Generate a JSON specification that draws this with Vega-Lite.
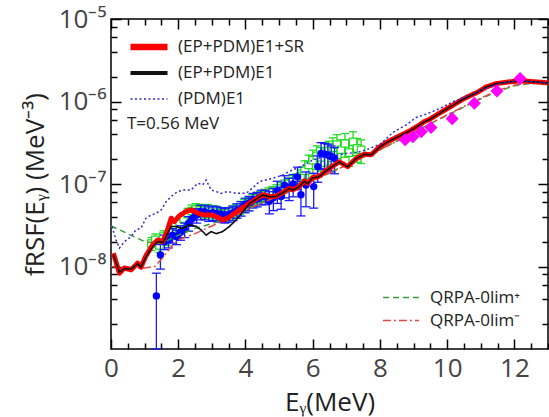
{
  "$schema": "https://vega.github.io/schema/vega-lite/v6.json",
  "width": 437,
  "height": 330,
  "autosize": {"type": "none"},
  "padding": {"left": 111, "top": 19, "right": 1, "bottom": 68},
  "background": "white",
  "config": {
    "font": "Open Sans",
    "view": {"stroke": "#000000", "strokeWidth": 1.5},
    "axis": {"grid": false, "domain": false, "tickColor": "#000000", "tickWidth": 1.5, "labelFont": "Open Sans", "labelFontSize": 26, "labelColor": "#444444", "titleFont": "Open Sans", "titleFontSize": 26, "titleFontWeight": "normal", "titleColor": "#222222", "labelOverlap": false, "labelFlush": false, "zindex": 1},
    "legend": {"padding": 0, "labelFont": "Open Sans", "labelFontSize": 17, "labelColor": "#222222", "titleFont": "Open Sans", "titleFontSize": 17, "titleFontWeight": "normal", "titleColor": "#222222", "symbolType": "stroke", "labelLimit": 300}
  },
  "datasets": {
    "curves": [
      {"E":0.07,"f":1.45e-8,"s":"r"},{"E":0.25,"f":8.3e-9,"s":"r"},{"E":0.4,"f":9.6e-9,"s":"r"},{"E":0.6,"f":9.1e-9,"s":"r"},{"E":0.79,"f":1.1e-8,"s":"r"},{"E":0.89,"f":9.8e-9,"s":"r"},{"E":1.04,"f":1.35e-8,"s":"r"},{"E":1.24,"f":1.83e-8,"s":"r"},{"E":1.39,"f":2.1e-8,"s":"r"},{"E":1.54,"f":2.0e-8,"s":"r"},{"E":1.66,"f":2.6e-8,"s":"r"},{"E":1.79,"f":3.85e-8,"s":"r"},{"E":1.88,"f":3.5e-8,"s":"r"},{"E":2.03,"f":4.1e-8,"s":"r"},{"E":2.25,"f":4.7e-8,"s":"r"},{"E":2.4,"f":4.85e-8,"s":"r"},{"E":2.6,"f":4.4e-8,"s":"r"},{"E":2.8,"f":4.2e-8,"s":"r"},{"E":3.02,"f":4.2e-8,"s":"r"},{"E":3.2,"f":3.9e-8,"s":"r"},{"E":3.32,"f":3.67e-8,"s":"r"},{"E":3.47,"f":3.85e-8,"s":"r"},{"E":3.82,"f":4.85e-8,"s":"r"},{"E":4.12,"f":5.85e-8,"s":"r"},{"E":4.51,"f":7.4e-8,"s":"r"},{"E":4.71,"f":7.05e-8,"s":"r"},{"E":4.91,"f":7.1e-8,"s":"r"},{"E":5.16,"f":8.1e-8,"s":"r"},{"E":5.31,"f":8.9e-8,"s":"r"},{"E":5.4,"f":8.5e-8,"s":"r"},{"E":5.6,"f":9.3e-8,"s":"r"},{"E":5.75,"f":1.09e-7,"s":"r"},{"E":5.85,"f":1.02e-7,"s":"r"},{"E":6.0,"f":1.2e-7,"s":"r"},{"E":6.15,"f":1.22e-7,"s":"r"},{"E":6.25,"f":1.29e-7,"s":"r"},{"E":6.4,"f":1.46e-7,"s":"r"},{"E":6.55,"f":1.6e-7,"s":"r"},{"E":6.79,"f":1.86e-7,"s":"r"},{"E":7.04,"f":1.62e-7,"s":"r"},{"E":7.29,"f":2.04e-7,"s":"r"},{"E":7.54,"f":2.3e-7,"s":"r"},{"E":7.74,"f":2.26e-7,"s":"r"},{"E":7.99,"f":2.82e-7,"s":"r"},{"E":8.23,"f":3.25e-7,"s":"r"},{"E":8.43,"f":3.57e-7,"s":"r"},{"E":8.68,"f":4.0e-7,"s":"r"},{"E":8.93,"f":4.5e-7,"s":"r"},{"E":9.18,"f":5.2e-7,"s":"r"},{"E":9.32,"f":5.7e-7,"s":"r"},{"E":9.47,"f":6.05e-7,"s":"r"},{"E":9.67,"f":6.8e-7,"s":"r"},{"E":9.92,"f":7.85e-7,"s":"r"},{"E":10.17,"f":9.0e-7,"s":"r"},{"E":10.42,"f":1.04e-6,"s":"r"},{"E":10.61,"f":1.14e-6,"s":"r"},{"E":10.91,"f":1.3e-6,"s":"r"},{"E":11.16,"f":1.5e-6,"s":"r"},{"E":11.46,"f":1.65e-6,"s":"r"},{"E":11.85,"f":1.73e-6,"s":"r"},{"E":12.2,"f":1.78e-6,"s":"r"},{"E":12.55,"f":1.74e-6,"s":"r"},{"E":13.0,"f":1.68e-6,"s":"r"},
      {"E":0.07,"f":1.4e-8,"s":"k"},{"E":0.25,"f":8.5e-9,"s":"k"},{"E":0.4,"f":9.4e-9,"s":"k"},{"E":0.6,"f":9.3e-9,"s":"k"},{"E":0.79,"f":1.08e-8,"s":"k"},{"E":0.89,"f":9.8e-9,"s":"k"},{"E":1.04,"f":1.3e-8,"s":"k"},{"E":1.24,"f":1.75e-8,"s":"k"},{"E":1.39,"f":2.0e-8,"s":"k"},{"E":1.54,"f":1.95e-8,"s":"k"},{"E":1.66,"f":2.4e-8,"s":"k"},{"E":1.79,"f":3.05e-8,"s":"k"},{"E":1.93,"f":3.05e-8,"s":"k"},{"E":2.13,"f":2.9e-8,"s":"k"},{"E":2.33,"f":3.2e-8,"s":"k"},{"E":2.53,"f":3.05e-8,"s":"k"},{"E":2.68,"f":2.78e-8,"s":"k"},{"E":2.83,"f":2.4e-8,"s":"k"},{"E":2.98,"f":2.65e-8,"s":"k"},{"E":3.13,"f":2.5e-8,"s":"k"},{"E":3.32,"f":2.65e-8,"s":"k"},{"E":3.52,"f":3.05e-8,"s":"k"},{"E":3.72,"f":3.65e-8,"s":"k"},{"E":3.9,"f":4.5e-8,"s":"k"},{"E":4.12,"f":5.8e-8,"s":"k"},{"E":4.51,"f":7.35e-8,"s":"k"},{"E":4.71,"f":7.0e-8,"s":"k"},{"E":4.91,"f":7.05e-8,"s":"k"},{"E":5.16,"f":8.05e-8,"s":"k"},{"E":5.31,"f":8.85e-8,"s":"k"},{"E":5.4,"f":8.45e-8,"s":"k"},{"E":5.6,"f":9.25e-8,"s":"k"},{"E":5.75,"f":1.08e-7,"s":"k"},{"E":5.85,"f":1.01e-7,"s":"k"},{"E":6.0,"f":1.19e-7,"s":"k"},{"E":6.15,"f":1.21e-7,"s":"k"},{"E":6.25,"f":1.28e-7,"s":"k"},{"E":6.4,"f":1.45e-7,"s":"k"},{"E":6.55,"f":1.59e-7,"s":"k"},{"E":6.79,"f":1.85e-7,"s":"k"},{"E":7.04,"f":1.61e-7,"s":"k"},{"E":7.29,"f":2.03e-7,"s":"k"},{"E":7.54,"f":2.29e-7,"s":"k"},{"E":7.74,"f":2.25e-7,"s":"k"},{"E":7.99,"f":2.8e-7,"s":"k"},{"E":8.23,"f":3.23e-7,"s":"k"},{"E":8.43,"f":3.55e-7,"s":"k"},{"E":8.68,"f":3.98e-7,"s":"k"},{"E":8.93,"f":4.48e-7,"s":"k"},{"E":9.18,"f":5.18e-7,"s":"k"},{"E":9.32,"f":5.67e-7,"s":"k"},{"E":9.47,"f":6.02e-7,"s":"k"},{"E":9.67,"f":6.77e-7,"s":"k"},{"E":9.92,"f":7.82e-7,"s":"k"},{"E":10.17,"f":8.97e-7,"s":"k"},{"E":10.42,"f":1.035e-6,"s":"k"},{"E":10.61,"f":1.135e-6,"s":"k"},{"E":10.91,"f":1.295e-6,"s":"k"},{"E":11.16,"f":1.495e-6,"s":"k"},{"E":11.46,"f":1.645e-6,"s":"k"},{"E":11.85,"f":1.725e-6,"s":"k"},{"E":12.2,"f":1.775e-6,"s":"k"},{"E":12.55,"f":1.735e-6,"s":"k"},{"E":13.0,"f":1.675e-6,"s":"k"},
      {"E":0.03,"f":3.05e-8,"s":"b"},{"E":0.15,"f":2.1e-8,"s":"b"},{"E":0.25,"f":1.67e-8,"s":"b"},{"E":0.4,"f":2.0e-8,"s":"b"},{"E":0.6,"f":2.3e-8,"s":"b"},{"E":0.74,"f":2.78e-8,"s":"b"},{"E":0.89,"f":2.9e-8,"s":"b"},{"E":1.04,"f":3.85e-8,"s":"b"},{"E":1.19,"f":4.2e-8,"s":"b"},{"E":1.34,"f":4.4e-8,"s":"b"},{"E":1.49,"f":4.85e-8,"s":"b"},{"E":1.64,"f":6.1e-8,"s":"b"},{"E":1.79,"f":7.05e-8,"s":"b"},{"E":1.98,"f":8.1e-8,"s":"b"},{"E":2.18,"f":8.45e-8,"s":"b"},{"E":2.38,"f":8.45e-8,"s":"b"},{"E":2.58,"f":1.02e-7,"s":"b"},{"E":2.73,"f":9.8e-8,"s":"b"},{"E":2.83,"f":1.12e-7,"s":"b"},{"E":2.98,"f":8.45e-8,"s":"b"},{"E":3.13,"f":8.1e-8,"s":"b"},{"E":3.27,"f":7.7e-8,"s":"b"},{"E":3.47,"f":8.1e-8,"s":"b"},{"E":3.72,"f":7.7e-8,"s":"b"},{"E":4.02,"f":7.7e-8,"s":"b"},{"E":4.21,"f":8.9e-8,"s":"b"},{"E":4.41,"f":1.07e-7,"s":"b"},{"E":4.61,"f":1.12e-7,"s":"b"},{"E":4.81,"f":1.17e-7,"s":"b"},{"E":5.11,"f":1.29e-7,"s":"b"},{"E":5.4,"f":1.48e-7,"s":"b"},{"E":5.7,"f":1.67e-7,"s":"b"},{"E":6.0,"f":1.95e-7,"s":"b"},{"E":6.3,"f":2.13e-7,"s":"b"},{"E":6.6,"f":2.2e-7,"s":"b"},{"E":7.0,"f":2.35e-7,"s":"b"},{"E":7.3,"f":2.4e-7,"s":"b"},{"E":7.6,"f":2.6e-7,"s":"b"},{"E":8.04,"f":3.1e-7,"s":"b"},{"E":8.38,"f":4.2e-7,"s":"b"},{"E":8.78,"f":5.2e-7,"s":"b"},{"E":9.08,"f":6.4e-7,"s":"b"},{"E":9.37,"f":7.0e-7,"s":"b"},{"E":9.77,"f":8.2e-7,"s":"b"},{"E":10.17,"f":9.9e-7,"s":"b"},{"E":10.66,"f":1.19e-6,"s":"b"},{"E":11.06,"f":1.4e-6,"s":"b"},{"E":11.56,"f":1.65e-6,"s":"b"},{"E":12.0,"f":1.75e-6,"s":"b"},{"E":12.5,"f":1.74e-6,"s":"b"},{"E":13.0,"f":1.68e-6,"s":"b"}
    ],
    "qrpa": [
      {"E":0.0,"f":3.1e-8,"q":"p"},{"E":0.5,"f":2.5e-8,"q":"p"},{"E":1.0,"f":2.0e-8,"q":"p"},{"E":1.5,"f":1.9e-8,"q":"p"},{"E":2.0,"f":2.4e-8,"q":"p"},{"E":2.5,"f":2.9e-8,"q":"p"},{"E":3.0,"f":3.3e-8,"q":"p"},{"E":3.5,"f":3.9e-8,"q":"p"},{"E":4.0,"f":4.9e-8,"q":"p"},{"E":4.5,"f":6.0e-8,"q":"p"},{"E":5.0,"f":7.3e-8,"q":"p"},{"E":5.5,"f":9.0e-8,"q":"p"},{"E":6.0,"f":1.12e-7,"q":"p"},{"E":6.5,"f":1.38e-7,"q":"p"},{"E":7.0,"f":1.7e-7,"q":"p"},{"E":7.5,"f":2.1e-7,"q":"p"},{"E":8.0,"f":2.6e-7,"q":"p"},{"E":8.5,"f":3.3e-7,"q":"p"},{"E":9.0,"f":4.2e-7,"q":"p"},{"E":9.5,"f":5.4e-7,"q":"p"},{"E":10.0,"f":6.8e-7,"q":"p"},{"E":10.5,"f":8.6e-7,"q":"p"},{"E":11.0,"f":1.08e-6,"q":"p"},{"E":11.5,"f":1.33e-6,"q":"p"},{"E":12.0,"f":1.55e-6,"q":"p"},{"E":12.5,"f":1.65e-6,"q":"p"},{"E":13.0,"f":1.68e-6,"q":"p"},
      {"E":0.0,"f":1.0e-8,"q":"m"},{"E":0.5,"f":9.8e-9,"q":"m"},{"E":1.0,"f":9.6e-9,"q":"m"},{"E":1.3,"f":1.0e-8,"q":"m"},{"E":1.5,"f":1.22e-8,"q":"m"},{"E":1.8,"f":1.75e-8,"q":"m"},{"E":2.0,"f":2.1e-8,"q":"m"},{"E":2.5,"f":2.5e-8,"q":"m"},{"E":3.0,"f":3.1e-8,"q":"m"},{"E":3.5,"f":3.8e-8,"q":"m"},{"E":4.0,"f":4.8e-8,"q":"m"},{"E":4.5,"f":5.9e-8,"q":"m"},{"E":5.0,"f":7.2e-8,"q":"m"},{"E":5.5,"f":8.9e-8,"q":"m"},{"E":6.0,"f":1.1e-7,"q":"m"},{"E":6.5,"f":1.36e-7,"q":"m"},{"E":7.0,"f":1.68e-7,"q":"m"},{"E":7.5,"f":2.1e-7,"q":"m"},{"E":8.0,"f":2.6e-7,"q":"m"},{"E":8.5,"f":3.3e-7,"q":"m"},{"E":9.0,"f":4.2e-7,"q":"m"},{"E":9.5,"f":5.4e-7,"q":"m"},{"E":10.0,"f":6.9e-7,"q":"m"},{"E":10.5,"f":8.7e-7,"q":"m"},{"E":11.0,"f":1.1e-6,"q":"m"},{"E":11.5,"f":1.36e-6,"q":"m"},{"E":12.0,"f":1.58e-6,"q":"m"},{"E":12.5,"f":1.68e-6,"q":"m"},{"E":13.0,"f":1.7e-6,"q":"m"}
    ],
    "oslo": [
      {"E":1.2,"f":1.9e-8,"lo":1.56e-8,"hi":2.24e-8},{"E":1.32,"f":2.1e-8,"lo":1.72e-8,"hi":2.48e-8},{"E":1.44,"f":1.8e-8,"lo":1.48e-8,"hi":2.12e-8},{"E":1.56,"f":2.3e-8,"lo":1.89e-8,"hi":2.71e-8},{"E":1.68,"f":2.2e-8,"lo":1.8e-8,"hi":2.6e-8},{"E":1.8,"f":2.6e-8,"lo":2.13e-8,"hi":3.07e-8},{"E":1.92,"f":3.1e-8,"lo":2.54e-8,"hi":3.66e-8},{"E":2.04,"f":3.3e-8,"lo":2.7e-8,"hi":3.9e-8},{"E":2.16,"f":3.8e-8,"lo":3.12e-8,"hi":4.48e-8},{"E":2.28,"f":4.3e-8,"lo":3.53e-8,"hi":5.07e-8},{"E":2.4,"f":4.7e-8,"lo":3.85e-8,"hi":5.55e-8},{"E":2.52,"f":4.9e-8,"lo":4.02e-8,"hi":5.78e-8},{"E":2.64,"f":4.8e-8,"lo":3.94e-8,"hi":5.66e-8},{"E":2.76,"f":4.7e-8,"lo":3.85e-8,"hi":5.55e-8},{"E":2.88,"f":4.8e-8,"lo":3.94e-8,"hi":5.66e-8},{"E":3.0,"f":4.6e-8,"lo":3.77e-8,"hi":5.43e-8},{"E":3.12,"f":4.6e-8,"lo":3.77e-8,"hi":5.43e-8},{"E":3.24,"f":4.4e-8,"lo":3.61e-8,"hi":5.19e-8},{"E":3.36,"f":4.3e-8,"lo":3.53e-8,"hi":5.07e-8},{"E":3.48,"f":4.4e-8,"lo":3.61e-8,"hi":5.19e-8},{"E":3.6,"f":4.6e-8,"lo":3.77e-8,"hi":5.43e-8},{"E":3.72,"f":4.8e-8,"lo":3.94e-8,"hi":5.66e-8},{"E":3.84,"f":5.2e-8,"lo":4.26e-8,"hi":6.14e-8},{"E":3.96,"f":5.5e-8,"lo":4.51e-8,"hi":6.49e-8},{"E":4.08,"f":5.8e-8,"lo":4.76e-8,"hi":6.84e-8},{"E":4.2,"f":6.3e-8,"lo":5.17e-8,"hi":7.43e-8},{"E":4.32,"f":6.6e-8,"lo":5.41e-8,"hi":7.79e-8},{"E":4.44,"f":6.9e-8,"lo":5.66e-8,"hi":8.14e-8},{"E":4.56,"f":7.3e-8,"lo":5.99e-8,"hi":8.61e-8},{"E":4.68,"f":7.6e-8,"lo":6.23e-8,"hi":8.97e-8},{"E":4.8,"f":7.9e-8,"lo":6.48e-8,"hi":9.32e-8},{"E":4.92,"f":8.3e-8,"lo":6.81e-8,"hi":9.79e-8},{"E":5.04,"f":8.8e-8,"lo":7.22e-8,"hi":1.04e-7},{"E":5.16,"f":9.5e-8,"lo":7.79e-8,"hi":1.12e-7},{"E":5.28,"f":1.0e-7,"lo":8.2e-8,"hi":1.18e-7},{"E":5.4,"f":1.07e-7,"lo":8.77e-8,"hi":1.26e-7},{"E":5.52,"f":1.13e-7,"lo":9.27e-8,"hi":1.33e-7},{"E":5.64,"f":1.25e-7,"lo":1.02e-7,"hi":1.48e-7},{"E":5.76,"f":1.45e-7,"lo":9.9e-8,"hi":1.91e-7},{"E":5.88,"f":1.7e-7,"lo":1.16e-7,"hi":2.24e-7},{"E":6.0,"f":1.95e-7,"lo":1.33e-7,"hi":2.57e-7},{"E":6.12,"f":2.2e-7,"lo":1.5e-7,"hi":2.9e-7},{"E":6.24,"f":2.1e-7,"lo":1.43e-7,"hi":2.77e-7},{"E":6.36,"f":2.4e-7,"lo":1.63e-7,"hi":3.17e-7},{"E":6.48,"f":2.5e-7,"lo":1.7e-7,"hi":3.3e-7},{"E":6.6,"f":2.75e-7,"lo":1.87e-7,"hi":3.63e-7},{"E":6.72,"f":3.0e-7,"lo":2.04e-7,"hi":3.96e-7},{"E":6.84,"f":2.6e-7,"lo":1.77e-7,"hi":3.43e-7},{"E":6.96,"f":3.1e-7,"lo":2.11e-7,"hi":4.09e-7},{"E":7.08,"f":2.4e-7,"lo":1.63e-7,"hi":3.17e-7},{"E":7.2,"f":3.25e-7,"lo":2.21e-7,"hi":4.29e-7},{"E":7.32,"f":2.7e-7,"lo":1.84e-7,"hi":3.56e-7},{"E":7.44,"f":2.6e-7,"lo":1.77e-7,"hi":3.43e-7}
    ],
    "blue": [
      {"E":1.35,"f":4.4e-9,"lo":1.0e-9,"hi":8.3e-9},{"E":1.47,"f":1.38e-8,"lo":9.3e-9,"hi":1.85e-8},{"E":1.59,"f":2.0e-8,"lo":1.6e-8,"hi":2.4e-8},{"E":1.71,"f":2.1e-8,"lo":1.68e-8,"hi":2.52e-8},{"E":1.83,"f":2.4e-8,"lo":1.92e-8,"hi":2.88e-8},{"E":1.95,"f":2.3e-8,"lo":1.84e-8,"hi":2.76e-8},{"E":2.07,"f":2.6e-8,"lo":2.08e-8,"hi":3.12e-8},{"E":2.19,"f":2.8e-8,"lo":2.24e-8,"hi":3.36e-8},{"E":2.31,"f":3.35e-8,"lo":2.68e-8,"hi":4.02e-8},{"E":2.43,"f":3.85e-8,"lo":3.08e-8,"hi":4.62e-8},{"E":2.55,"f":4.2e-8,"lo":3.36e-8,"hi":5.04e-8},{"E":2.67,"f":4.6e-8,"lo":3.68e-8,"hi":5.52e-8},{"E":2.79,"f":4.6e-8,"lo":3.68e-8,"hi":5.52e-8},{"E":2.91,"f":4.4e-8,"lo":3.52e-8,"hi":5.28e-8},{"E":3.03,"f":4.5e-8,"lo":3.6e-8,"hi":5.4e-8},{"E":3.15,"f":4.4e-8,"lo":3.52e-8,"hi":5.28e-8},{"E":3.27,"f":4.3e-8,"lo":3.44e-8,"hi":5.16e-8},{"E":3.39,"f":4.2e-8,"lo":3.36e-8,"hi":5.04e-8},{"E":3.51,"f":4.3e-8,"lo":3.44e-8,"hi":5.16e-8},{"E":3.63,"f":4.5e-8,"lo":3.6e-8,"hi":5.4e-8},{"E":3.75,"f":4.8e-8,"lo":3.84e-8,"hi":5.76e-8},{"E":3.87,"f":5.1e-8,"lo":4.08e-8,"hi":6.12e-8},{"E":3.99,"f":5.6e-8,"lo":4.48e-8,"hi":6.72e-8},{"E":4.11,"f":5.9e-8,"lo":4.72e-8,"hi":7.08e-8},{"E":4.23,"f":6.4e-8,"lo":5.12e-8,"hi":7.68e-8},{"E":4.35,"f":6.6e-8,"lo":5.28e-8,"hi":7.92e-8},{"E":4.47,"f":7.0e-8,"lo":5.6e-8,"hi":8.4e-8},{"E":4.59,"f":7.0e-8,"lo":5.6e-8,"hi":8.4e-8},{"E":4.71,"f":6.2e-8,"lo":4.34e-8,"hi":8.06e-8},{"E":4.83,"f":6.8e-8,"lo":4.76e-8,"hi":8.84e-8},{"E":4.95,"f":8.3e-8,"lo":5.81e-8,"hi":1.08e-7},{"E":5.06,"f":7.05e-8,"lo":4.94e-8,"hi":9.17e-8},{"E":5.16,"f":9.7e-8,"lo":6.79e-8,"hi":1.26e-7},{"E":5.3,"f":9.0e-8,"lo":6.3e-8,"hi":1.17e-7},{"E":5.42,"f":1.0e-7,"lo":7.0e-8,"hi":1.3e-7},{"E":5.55,"f":1.22e-7,"lo":8.5e-8,"hi":1.6e-7},{"E":5.65,"f":7.4e-8,"lo":4.1e-8,"hi":1.07e-7},{"E":5.8,"f":9.7e-8,"lo":5.3e-8,"hi":1.4e-7},{"E":6.03,"f":9.3e-8,"lo":5.1e-8,"hi":1.35e-7},{"E":6.15,"f":1.62e-7,"lo":1.05e-7,"hi":2.19e-7},{"E":6.25,"f":2.35e-7,"lo":1.53e-7,"hi":3.17e-7},{"E":6.35,"f":2.3e-7,"lo":1.5e-7,"hi":3.1e-7},{"E":6.45,"f":2.25e-7,"lo":1.46e-7,"hi":3.04e-7},{"E":6.55,"f":2.15e-7,"lo":1.4e-7,"hi":2.9e-7},{"E":6.65,"f":2.05e-7,"lo":1.33e-7,"hi":2.77e-7}
    ],
    "dia": [
      {"E":8.75,"f":3.45e-7},{"E":8.98,"f":3.73e-7},{"E":9.23,"f":4.3e-7},{"E":9.52,"f":4.85e-7},{"E":10.15,"f":6.2e-7},{"E":10.81,"f":9.5e-7},{"E":11.48,"f":1.34e-6},{"E":12.17,"f":1.9e-6}
    ]
  },
  "layer": [
    {
      "data": {"name": "oslo"},
      "mark": {"type": "rule", "color": "#22dd22", "strokeWidth": 1.3},
      "encoding": {
        "x": {"field": "E", "type": "quantitative", "scale": {"domain": [0, 13], "nice": false, "zero": false}, "axis": null},
        "y": {"field": "lo", "type": "quantitative", "scale": {"type": "log", "domain": [1e-9, 1e-5], "nice": false}, "axis": null},
        "y2": {"field": "hi"}
      }
    },
    {
      "data": {"name": "oslo"},
      "mark": {"type": "tick", "orient": "horizontal", "size": 8, "thickness": 1.3, "color": "#22dd22", "opacity": 1},
      "encoding": {
        "x": {"field": "E", "type": "quantitative", "scale": {"domain": [0, 13], "nice": false, "zero": false}, "axis": null},
        "y": {"field": "lo", "type": "quantitative", "scale": {"type": "log", "domain": [1e-9, 1e-5], "nice": false}, "axis": null}
      }
    },
    {
      "data": {"name": "oslo"},
      "mark": {"type": "tick", "orient": "horizontal", "size": 8, "thickness": 1.3, "color": "#22dd22", "opacity": 1},
      "encoding": {
        "x": {"field": "E", "type": "quantitative", "scale": {"domain": [0, 13], "nice": false, "zero": false}, "axis": null},
        "y": {"field": "hi", "type": "quantitative", "scale": {"type": "log", "domain": [1e-9, 1e-5], "nice": false}, "axis": null}
      }
    },
    {
      "data": {"name": "oslo"},
      "mark": {"type": "point", "shape": "square", "filled": true, "fill": "#ffffff", "stroke": "#22dd22", "strokeWidth": 1.3, "size": 55, "opacity": 1},
      "encoding": {
        "x": {"field": "E", "type": "quantitative", "scale": {"domain": [0, 13], "nice": false, "zero": false},
          "axis": {"orient": "bottom", "values": [0,0.5,1,1.5,2,2.5,3,3.5,4,4.5,5,5.5,6,6.5,7,7.5,8,8.5,9,9.5,10,10.5,11,11.5,12,12.5,13],
            "labelExpr": "datum.value % 2 === 0 ? '' + datum.value : ''",
            "tickSize": {"condition": {"test": "datum.value % 2 === 0", "value": -10}, "value": -6},
            "labelPadding": 16, "title": "Eᵧ(MeV)", "titlePadding": 4}},
        "y": {"field": "f", "type": "quantitative", "scale": {"type": "log", "domain": [1e-9, 1e-5], "nice": false},
          "axis": {"orient": "left", "values": [2e-9,4e-9,6e-9,8e-9,1e-8,2e-8,4e-8,6e-8,8e-8,1e-7,2e-7,4e-7,6e-7,8e-7,1e-6,2e-6,4e-6,6e-6,8e-6,1e-5],
            "labelExpr": "abs(log(datum.value)/LN10 - round(log(datum.value)/LN10)) < 0.01 ? (round(log(datum.value)/LN10) == -5 ? '10⁻⁵' : round(log(datum.value)/LN10) == -6 ? '10⁻⁶' : round(log(datum.value)/LN10) == -7 ? '10⁻⁷' : '10⁻⁸') : ''",
            "tickSize": {"condition": {"test": "abs(log(datum.value)/LN10 - round(log(datum.value)/LN10)) < 0.01", "value": -10}, "value": -6},
            "labelPadding": 15, "title": "fRSF(Eᵧ) (MeV⁻³)", "titlePadding": 10}}
      }
    },
    {
      "data": {"name": "blue"},
      "mark": {"type": "rule", "color": "#1a1aff", "strokeWidth": 1.3},
      "encoding": {
        "x": {"field": "E", "type": "quantitative", "scale": {"domain": [0, 13], "nice": false, "zero": false}, "axis": null},
        "y": {"field": "lo", "type": "quantitative", "scale": {"type": "log", "domain": [1e-9, 1e-5], "nice": false}, "axis": null},
        "y2": {"field": "hi"}
      }
    },
    {
      "data": {"name": "blue"},
      "mark": {"type": "tick", "orient": "horizontal", "size": 9, "thickness": 1.3, "color": "#1a1aff", "opacity": 1},
      "encoding": {
        "x": {"field": "E", "type": "quantitative", "scale": {"domain": [0, 13], "nice": false, "zero": false}, "axis": null},
        "y": {"field": "lo", "type": "quantitative", "scale": {"type": "log", "domain": [1e-9, 1e-5], "nice": false}, "axis": null}
      }
    },
    {
      "data": {"name": "blue"},
      "mark": {"type": "tick", "orient": "horizontal", "size": 9, "thickness": 1.3, "color": "#1a1aff", "opacity": 1},
      "encoding": {
        "x": {"field": "E", "type": "quantitative", "scale": {"domain": [0, 13], "nice": false, "zero": false}, "axis": null},
        "y": {"field": "hi", "type": "quantitative", "scale": {"type": "log", "domain": [1e-9, 1e-5], "nice": false}, "axis": null}
      }
    },
    {
      "data": {"name": "blue"},
      "mark": {"type": "point", "shape": "circle", "filled": true, "color": "#0000ff", "size": 55, "opacity": 1},
      "encoding": {
        "x": {"field": "E", "type": "quantitative", "scale": {"domain": [0, 13], "nice": false, "zero": false},
          "axis": {"orient": "top", "values": [0,0.5,1,1.5,2,2.5,3,3.5,4,4.5,5,5.5,6,6.5,7,7.5,8,8.5,9,9.5,10,10.5,11,11.5,12,12.5,13],
            "labels": false, "title": null,
            "tickSize": {"condition": {"test": "datum.value % 2 === 0", "value": -10}, "value": -6}}},
        "y": {"field": "f", "type": "quantitative", "scale": {"type": "log", "domain": [1e-9, 1e-5], "nice": false},
          "axis": {"orient": "right", "values": [2e-9,4e-9,6e-9,8e-9,1e-8,2e-8,4e-8,6e-8,8e-8,1e-7,2e-7,4e-7,6e-7,8e-7,1e-6,2e-6,4e-6,6e-6,8e-6,1e-5],
            "labels": false, "title": null,
            "tickSize": {"condition": {"test": "abs(log(datum.value)/LN10 - round(log(datum.value)/LN10)) < 0.01", "value": -10}, "value": -6}}}
      }
    },
    {
      "data": {"name": "qrpa"},
      "encoding": {
        "x": {"field": "E", "type": "quantitative", "scale": {"domain": [0, 13], "nice": false, "zero": false}, "axis": null},
        "y": {"field": "f", "type": "quantitative", "scale": {"type": "log", "domain": [1e-9, 1e-5], "nice": false}, "axis": null},
        "color": {"field": "q", "type": "nominal", "scale": {"domain": ["p", "m"], "range": ["#3a9a3a", "#dd4a4a"]},
          "legend": {"orient": "none", "legendX": 271, "legendY": 267, "title": null, "labelExpr": "datum.value === 'p' ? 'QRPA-0lim⁺' : 'QRPA-0lim⁻'", "symbolSize": 1300, "labelOffset": 10, "rowPadding": 0, "clipHeight": 23, "symbolStrokeWidth": 1.5}},
        "strokeDash": {"field": "q", "type": "nominal", "scale": {"domain": ["p", "m"], "range": [[6, 4], [8, 3, 2, 3]]},
          "legend": {"orient": "none", "legendX": 271, "legendY": 267, "title": null, "labelExpr": "datum.value === 'p' ? 'QRPA-0lim⁺' : 'QRPA-0lim⁻'", "symbolSize": 1300, "labelOffset": 10, "rowPadding": 0, "clipHeight": 23, "symbolStrokeWidth": 1.5}}
      },
      "layer": [
        {"mark": {"type": "line", "strokeWidth": 1.5}}
      ]
    },
    {
      "data": {"name": "curves"},
      "encoding": {
        "x": {"field": "E", "type": "quantitative", "scale": {"domain": [0, 13], "nice": false, "zero": false}, "axis": null},
        "y": {"field": "f", "type": "quantitative", "scale": {"type": "log", "domain": [1e-9, 1e-5], "nice": false}, "axis": null},
        "color": {"field": "s", "type": "nominal", "scale": {"domain": ["r", "k", "b"], "range": ["#ff0000", "#111111", "#2a2ad0"]},
          "legend": {"orient": "none", "legendX": 16, "legendY": 15, "title": "T=0.56 MeV", "titleOrient": "bottom", "titleAnchor": "start", "titlePadding": 4, "labelExpr": "datum.value === 'r' ? '(EP+PDM)E1+SR' : datum.value === 'k' ? '(EP+PDM)E1' : '(PDM)E1'", "symbolSize": 1369, "labelOffset": 7, "rowPadding": 0, "clipHeight": 26}},
        "strokeDash": {"field": "s", "type": "nominal", "scale": {"domain": ["r", "k", "b"], "range": [[1, 0], [1, 0], [2, 2.5]]},
          "legend": {"orient": "none", "legendX": 16, "legendY": 15, "title": "T=0.56 MeV", "titleOrient": "bottom", "titleAnchor": "start", "titlePadding": 4, "labelExpr": "datum.value === 'r' ? '(EP+PDM)E1+SR' : datum.value === 'k' ? '(EP+PDM)E1' : '(PDM)E1'", "symbolSize": 1369, "labelOffset": 7, "rowPadding": 0, "clipHeight": 26}},
        "strokeWidth": {"field": "s", "type": "nominal", "scale": {"domain": ["r", "k", "b"], "range": [6.5, 1.5]},
          "legend": {"orient": "none", "legendX": 16, "legendY": 15, "title": "T=0.56 MeV", "titleOrient": "bottom", "titleAnchor": "start", "titlePadding": 4, "labelExpr": "datum.value === 'r' ? '(EP+PDM)E1+SR' : datum.value === 'k' ? '(EP+PDM)E1' : '(PDM)E1'", "symbolSize": 1369, "labelOffset": 7, "rowPadding": 0, "clipHeight": 26}}
      },
      "layer": [
        {"transform": [{"filter": "datum.s === 'r'"}], "mark": {"type": "line", "strokeJoin": "round"}, "encoding": {"strokeWidth": {"value": 5}}},
        {"transform": [{"filter": "datum.s === 'k'"}], "mark": {"type": "line"}, "encoding": {"strokeWidth": {"value": 1.6}}},
        {"transform": [{"filter": "datum.s === 'b'"}], "mark": {"type": "line"}}
      ]
    },
    {
      "data": {"name": "dia"},
      "mark": {"type": "point", "shape": "diamond", "filled": true, "color": "#ff00ff", "size": 170, "opacity": 1},
      "encoding": {
        "x": {"field": "E", "type": "quantitative", "scale": {"domain": [0, 13], "nice": false, "zero": false}, "axis": null},
        "y": {"field": "f", "type": "quantitative", "scale": {"type": "log", "domain": [1e-9, 1e-5], "nice": false}, "axis": null}
      }
    }
  ],
  "resolve": {
    "scale": {"color": "independent", "strokeDash": "independent", "strokeWidth": "independent"},
    "axis": {"x": "independent", "y": "independent"}
  }
}
